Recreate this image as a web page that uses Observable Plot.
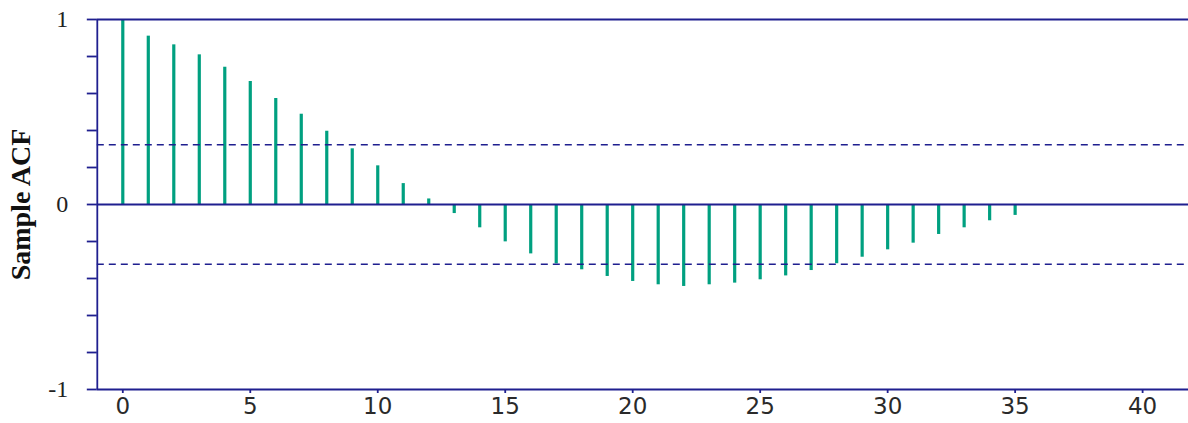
<!DOCTYPE html>
<html>
<head>
<meta charset="utf-8">
<script src="https://cdn.jsdelivr.net/npm/d3@7"></script>
<script src="https://cdn.jsdelivr.net/npm/@observablehq/plot@0.6"></script>
<style>
  html, body { margin: 0; padding: 0; background: #fff; }
  #chart svg { display: block; }
</style>
</head>
<body>
<div id="chart"></div>
<script>
const lags = [0,1,2,3,4,5,6,7,8,9,10,11,12,13,14,15,16,17,18,19,20,21,22,23,24,25,26,27,28,29,30,31,32,33,34,35];
const acf = [1.000,0.910,0.863,0.809,0.742,0.665,0.573,0.488,0.396,0.301,0.209,0.113,0.030,-0.049,-0.126,-0.202,-0.267,-0.321,-0.353,-0.389,-0.416,-0.434,-0.443,-0.434,-0.425,-0.407,-0.386,-0.357,-0.320,-0.285,-0.245,-0.209,-0.162,-0.126,-0.088,-0.059];
const bound = 0.323;
const xTicks = [0,5,10,15,20,25,30,35,40];
const yTicks = [-1,-0.8,-0.6,-0.4,-0.2,0,0.2,0.4,0.6,0.8,1];
const yLabels = [-1,0,1];
const yTitle = "Sample ACF";

const data = lags.map((l, i) => ({lag: l, acf: acf[i]}));
const navy = "#1f1f8f";
const teal = "#00a080";

const chart = Plot.plot({
  width: 1188,
  height: 423,
  marginLeft: 96.8,
  marginRight: 0,
  marginTop: 19,
  marginBottom: 34,
  x: {domain: [-1, 41.8], axis: null},
  y: {domain: [-1, 1], axis: null},
  marks: [
    Plot.ruleX(data, {x: "lag", y1: 0, y2: "acf", stroke: teal, strokeWidth: 3.2}),
    Plot.ruleY([bound, -bound], {stroke: navy, strokeWidth: 1.7, strokeDasharray: "7,5"}),
    Plot.ruleY([0, 1, -1], {stroke: navy, strokeWidth: 1.8}),
    Plot.ruleX([-1], {stroke: navy, strokeWidth: 1.8}),
    Plot.axisY({
      ticks: yTicks,
      tickSize: 10,
      tickPadding: 19,
      stroke: navy,
      strokeWidth: 1.8,
      tickFormat: d => yLabels.some(v => Math.abs(v - d) < 1e-9) ? (d < 0 ? "-" + Math.abs(d) : String(d)) : "",
      fontFamily: "Liberation Serif",
      fontSize: 24,
      fill: "#222",
      label: null
    }),
    Plot.axisX({
      ticks: xTicks,
      tickSize: 4,
      tickPadding: 4,
      stroke: navy,
      strokeWidth: 1.8,
      fontFamily: "DejaVu Sans",
      fontSize: 23,
      fill: "#2a2a2a",
      label: null
    }),
    Plot.text([yTitle], {
      x: -1,
      y: 0,
      rotate: -90,
      dx: -76,
      text: d => d,
      fontFamily: "Liberation Serif",
      fontWeight: "bold",
      fontSize: 28,
      fill: "#111"
    })
  ]
});
document.getElementById("chart").appendChild(chart);
</script>
</body>
</html>
